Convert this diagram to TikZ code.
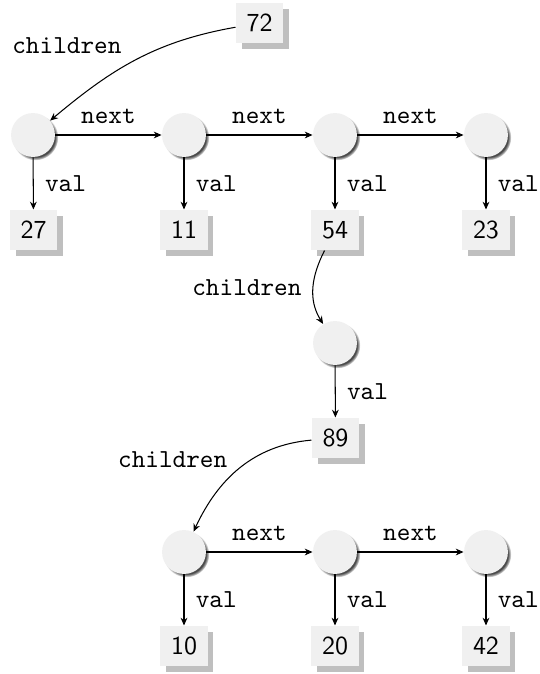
\documentclass[tikz,border=0pt]{standalone}
\usetikzlibrary{shadows,arrows.meta,fadings}
\begin{document}
\begin{tikzpicture}[x=0.385pt,y=-0.385pt,
  ball/.style={circle, minimum size=16.9pt, inner sep=0pt, fill=black!6,
    circular drop shadow={shadow xshift=0.9pt, shadow yshift=-0.9pt, shadow scale=1.04, fill=black!70}},
  numbox/.style={rectangle, minimum width=18.1pt, minimum height=15.4pt, inner sep=0pt,
    fill=black!6, font=\sffamily,
    drop shadow={shadow xshift=2.3pt, shadow yshift=-2.3pt, fill=black!25, opacity=1}},
  lbl/.style={font=\ttfamily},
  nextlbl/.style={lbl, above=1pt},
  vallbl/.style={lbl, right=1pt},
  link/.style={-{Stealth[length=3pt,width=2.6pt]}}]
\useasboundingbox (0,0) rectangle (539,674);
\fill[white] (0,0) rectangle (539,674);
% top
\node[numbox] (b72) at (259.5,23) {72};
\node[ball] (c1) at (33,135) {};
\node[ball] (c2) at (184,135) {};
\node[ball] (c3) at (335,135) {};
\node[ball] (c4) at (486,135) {};
\node[numbox] (b27) at (33.5,230) {27};
\node[numbox] (b11) at (184,230) {11};
\node[numbox] (b54) at (335,230) {54};
\node[numbox] (b23) at (486,230) {23};
% middle
\node[ball] (c5) at (335,343) {};
\node[numbox] (b89) at (335.5,438) {89};
% bottom
\node[ball] (c6) at (184,552) {};
\node[ball] (c7) at (335,552) {};
\node[ball] (c8) at (486,552) {};
\node[numbox] (b10) at (184,646) {10};
\node[numbox] (b20) at (335,646) {20};
\node[numbox] (b42) at (486,646) {42};
% connectors
\draw[link] (b72) to[out=190,in=40] node[lbl, pos=0.42, left=7.5pt, yshift=2.6pt] {children} (c1);
\draw[link] (c1) -- node[nextlbl] {next} (c2);
\draw[link] (c2) -- node[nextlbl] {next} (c3);
\draw[link] (c3) -- node[nextlbl] {next} (c4);
\draw[link] (c1) -- node[vallbl] {val} (b27);
\draw[link] (c2) -- node[vallbl] {val} (b11);
\draw[link] (c3) -- node[vallbl] {val} (b54);
\draw[link] (c4) -- node[vallbl] {val} (b23);
\draw[link] (b54) to[out=243,in=122] node[lbl, pos=0.5, left=1pt] {children} (c5);
\draw[link] (c5) -- node[vallbl] {val} (b89);
\draw[link] (b89) to[out=185,in=65] node[lbl, pos=0.4, left=6pt] {children} (c6);
\draw[link] (c6) -- node[nextlbl] {next} (c7);
\draw[link] (c7) -- node[nextlbl] {next} (c8);
\draw[link] (c6) -- node[vallbl] {val} (b10);
\draw[link] (c7) -- node[vallbl] {val} (b20);
\draw[link] (c8) -- node[vallbl] {val} (b42);
\end{tikzpicture}
\end{document}
